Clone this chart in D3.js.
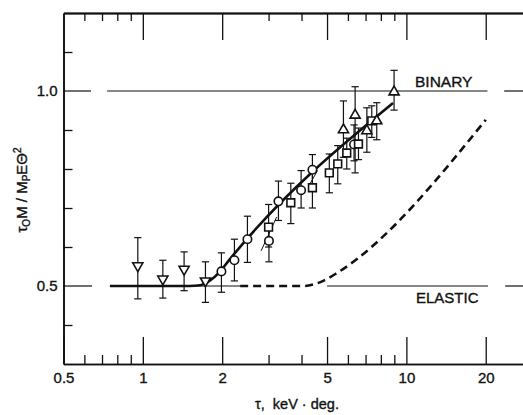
<!DOCTYPE html>
<html>
<head>
<meta charset="utf-8">
<script src="https://cdn.jsdelivr.net/npm/d3@7"></script>
<style>
  html, body { margin: 0; padding: 0; background: #fff; }
  svg { display: block; }
  text { font-family: "Liberation Sans", Arial, sans-serif; fill: #111; stroke: #111; stroke-width: 0.35px; }
</style>
</head>
<body>
<svg id="chart" width="523" height="415"></svg>
<script>
// ---------- data ----------
const xMajorTicks = [0.5, 1, 2, 5, 10, 20];
const xMinorTicks = [0.6, 0.7, 0.8, 0.9, 3, 4, 6, 7, 8, 9];
const yMinorTicks = [0.4, 0.6, 0.7, 0.8, 0.9, 1.1];
const yLabelTicks = [0.5, 1.0];

// inverted triangles
const downTau = [0.957, 1.191, 1.434, 1.728];
const downVal = [0.552, 0.518, 0.543, 0.513];
const downHi  = [0.624, 0.566, 0.5875, 0.562];
const downLo  = [0.467, 0.469, 0.488, 0.458];

// circles
const circTau = [1.987, 2.226, 2.494, 3.01, 3.27, 3.986, 4.40, 6.33];
const circVal = [0.5375, 0.566, 0.62, 0.6156, 0.717, 0.7457, 0.798, 0.863];
const circHi  = [0.585, 0.62, 0.679, 0.66, 0.769, 0.796, 0.837, 0.913];
const circLo  = [0.484, 0.513, 0.5605, 0.562, 0.668, 0.70, 0.76, 0.821];

// squares
const sqTau = [3.00, 3.643, 4.40, 5.10, 5.49, 5.94, 6.58, 7.39];
const sqVal = [0.651, 0.7135, 0.752, 0.79, 0.813, 0.841, 0.864, 0.9235];
const sqHi  = [0.709, 0.7635, 0.79, 0.8385, 0.86, 0.879, 0.905, 0.962];
const sqLo  = [0.60, 0.66, 0.70, 0.739, 0.762, 0.80, 0.824, 0.881];

// upright triangles
const upTau = [5.77, 6.39, 7.08, 7.72, 8.98];
const upVal = [0.9005, 0.938, 0.898, 0.9235, 0.9974];
const upHi  = [0.9745, 1.011, 0.957, 0.97, 1.053];
const upLo  = [0.83, 0.79, 0.843, 0.875, 0.951];

// fitted (solid) curve
const fitTau = [0.75, 1.5, 1.65, 1.8, 1.95, 2.14, 8.9];
const fitVal = [0.5, 0.5, 0.502, 0.514, 0.535, 0.569, 0.969];

// elastic (dashed) curve
const elTau = [2.34, 4.1, 4.5, 4.9, 5.5, 20];
const elVal = [0.5, 0.5, 0.505, 0.515, 0.535, 0.926];

// thin leader segments
const leadTau = [[2.81, 3.22], [4.25, 4.60]];
const leadVal = [[0.590, 0.677], [0.755, 0.796]];

// reference levels (value, tau spans)
const binaryLevel = 1.0;
const binarySpans = [[0.5, 0.636], [0.732, 20.3], [23.5, 27.7]];
const elasticLevel = 0.5;
const elasticSpans = [[0.5, 0.642], [0.751, 2.34], [5.0, 20.4], [23.7, 27.7]];

const xDomain = [0.5, 27.7];
const yDomain = [0.3, 1.2];

// ---------- drawing ----------
const svg = d3.select("#chart");
const padL = 63.5, padR = 523, padT = 13, padB = 364;

const x = d3.scaleLog().domain(xDomain).range([padL, padR]);
const y = d3.scaleLinear().domain(yDomain).range([padB, padT]);

const ink = "#111";

// bottom axis: major + minor
svg.append("g").attr("transform", `translate(0,${padB})`)
  .call(d3.axisBottom(x).tickValues(xMajorTicks).tickSize(-27).tickSizeOuter(0)
    .tickPadding(8).tickFormat(d => d === 0.5 ? "0.5" : String(d)));
svg.append("g").attr("transform", `translate(0,${padB})`)
  .call(d3.axisBottom(x).tickValues(xMinorTicks).tickSize(-9).tickSizeOuter(0).tickFormat(""));

// top axis
const gTopMajor = svg.append("g").attr("transform", `translate(0,${padT})`)
  .call(d3.axisTop(x).tickValues(xMajorTicks.filter(d => d !== 0.5)).tickSize(-27).tickSizeOuter(0).tickFormat(""));
svg.append("g").attr("transform", `translate(0,${padT})`)
  .call(d3.axisTop(x).tickValues(xMinorTicks).tickSize(-8).tickSizeOuter(0).tickFormat(""));

// left axis
svg.append("g").attr("transform", `translate(${padL},0)`)
  .call(d3.axisLeft(y).tickValues(yMinorTicks).tickSize(-9).tickSizeOuter(0).tickFormat(""));
svg.append("g").attr("transform", `translate(${padL},0)`)
  .call(d3.axisLeft(y).tickValues(yLabelTicks).tickSize(0).tickSizeOuter(0).tickPadding(6)
    .tickFormat(d3.format(".1f")));

svg.selectAll(".domain").attr("stroke", ink).attr("stroke-width", 1.6);
svg.selectAll(".tick line").attr("stroke", ink).attr("stroke-width", 1.3);
svg.selectAll(".tick text").attr("font-size", 15).attr("fill", ink)
  .attr("font-family", '"Liberation Sans", Arial, sans-serif');
gTopMajor.select(".domain").attr("stroke-width", 1.8);

// reference lines
function spans(level, list) {
  svg.append("g").selectAll("line").data(list).join("line")
    .attr("x1", d => x(d[0])).attr("x2", d => x(d[1]))
    .attr("y1", y(level)).attr("y2", y(level))
    .attr("stroke", ink).attr("stroke-width", 1.2);
}
spans(binaryLevel, binarySpans);
spans(elasticLevel, elasticSpans);

// curves
const line = d3.line().x(d => x(d[0])).y(d => y(d[1])).curve(d3.curveMonotoneX);
svg.append("path").datum(fitTau.map((t, i) => [t, fitVal[i]]))
  .attr("d", line).attr("fill", "none").attr("stroke", ink).attr("stroke-width", 2.6);
svg.append("path").datum(elTau.map((t, i) => [t, elVal[i]]))
  .attr("d", line).attr("fill", "none").attr("stroke", ink).attr("stroke-width", 2.6)
  .attr("stroke-dasharray", "8,5");

// leader segments
svg.append("g").selectAll("line").data(leadTau.map((t, i) => [t, leadVal[i]])).join("line")
  .attr("x1", d => x(d[0][0])).attr("x2", d => x(d[0][1]))
  .attr("y1", d => y(d[1][0])).attr("y2", d => y(d[1][1]))
  .attr("stroke", ink).attr("stroke-width", 1);

// series
function series(tau, val, hi, lo) {
  return tau.map((t, i) => ({ t, v: val[i], hi: hi[i], lo: lo[i] }));
}
const sets = [
  { data: series(downTau, downVal, downHi, downLo), kind: "down" },
  { data: series(circTau, circVal, circHi, circLo), kind: "circle" },
  { data: series(sqTau, sqVal, sqHi, sqLo), kind: "square" },
  { data: series(upTau, upVal, upHi, upLo), kind: "up" }
];

const cap = 3.6;
const errG = svg.append("g").attr("stroke", ink).attr("stroke-width", 1.2);
sets.forEach(s => {
  s.data.forEach(d => {
    const cx = x(d.t);
    errG.append("line").attr("x1", cx).attr("x2", cx).attr("y1", y(d.hi)).attr("y2", y(d.lo));
    errG.append("line").attr("x1", cx - cap).attr("x2", cx + cap).attr("y1", y(d.hi)).attr("y2", y(d.hi));
    errG.append("line").attr("x1", cx - cap).attr("x2", cx + cap).attr("y1", y(d.lo)).attr("y2", y(d.lo));
  });
});

const markG = svg.append("g");
sets.forEach(s => {
  let sym;
  if (s.kind === "circle") sym = d3.symbol(d3.symbolCircle, 56);
  else if (s.kind === "square") sym = d3.symbol(d3.symbolSquare, 60);
  else sym = d3.symbol(d3.symbolTriangle, 44);
  markG.append("g").selectAll("path").data(s.data).join("path")
    .attr("d", sym)
    .attr("transform", d => `translate(${x(d.t)},${y(d.v)})` + (s.kind === "down" ? " rotate(180)" : ""))
    .attr("fill", "#fff").attr("stroke", ink).attr("stroke-width", 1.6);
});

// labels
svg.append("text").attr("x", 415).attr("y", 87).attr("font-size", 15.5).text("BINARY");
svg.append("text").attr("x", 416).attr("y", 303).attr("font-size", 15).text("ELASTIC");

// axis titles
svg.append("text").attr("x", 297).attr("y", 409).attr("text-anchor", "middle")
  .attr("font-size", 14.5).attr("xml:space", "preserve").text("τ,  keV · deg.");

const yt = svg.append("text").attr("transform", "translate(27,190) rotate(-90)")
  .attr("text-anchor", "middle").attr("font-size", 15);
yt.append("tspan").text("τ");
yt.append("tspan").attr("font-size", 10).attr("dy", 3).text("O");
yt.append("tspan").attr("dy", -3).text("M / M");
yt.append("tspan").attr("font-size", 10).attr("dy", 3).text("P");
yt.append("tspan").attr("dy", -3).text("EΘ");
yt.append("tspan").attr("font-size", 10).attr("dy", -6).text("2");
</script>
</body>
</html>
